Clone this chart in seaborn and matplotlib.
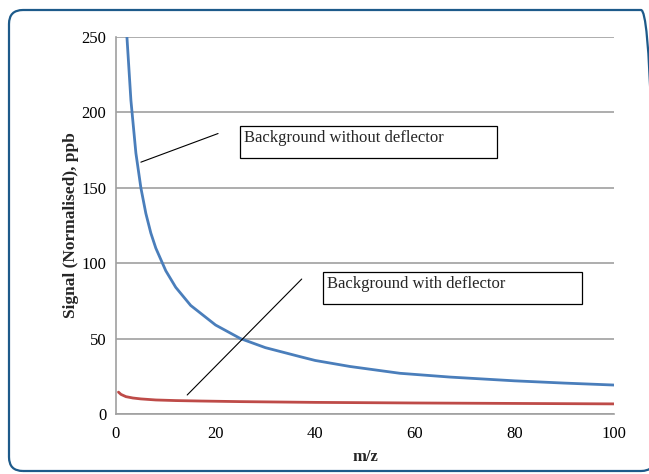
import seaborn as sns
import matplotlib.pyplot as plt
import pandas as pd
from matplotlib.patches import FancyBboxPatch

# values
mz_without = [2.2, 3, 4, 5, 6, 7, 8, 10, 12, 15, 20, 25, 30, 37, 40, 47, 57, 67, 80, 90, 100]
sig_without = [250, 208, 173, 150, 133, 120, 110, 95, 84, 72, 59, 50, 44, 38, 35.5, 31.5, 27, 24.5, 22, 20.5, 19.2]

mz_with = [0.5, 1, 2, 3.4, 5, 8, 12, 17, 25, 40, 60, 80, 100]
sig_with = [14.5, 13, 11.5, 10.6, 10, 9.3, 8.9, 8.6, 8.2, 7.7, 7.3, 7.0, 6.7]

x_ticks = [0, 20, 40, 60, 80, 100]
y_ticks = [0, 50, 100, 150, 200, 250]

df_without = pd.DataFrame({"mz": mz_without, "signal": sig_without})
df_with = pd.DataFrame({"mz": mz_with, "signal": sig_with})

sns.set_style("white")
plt.rcParams['font.family'] = ['Liberation Serif', 'DejaVu Serif']

fig = plt.figure(figsize=(6.49, 4.74), dpi=100)
ax = fig.add_axes([0.1787, 0.1266, 0.7673, 0.7953])

# rounded frame around the whole picture (pixel coords, runs off the right edge)
frame = FancyBboxPatch((9, 3), 646, 461, boxstyle="round,pad=0,rounding_size=14",
                       transform=None, fill=False, edgecolor="#1d5a8a", linewidth=1.6,
                       clip_on=False)
fig.patches.append(frame)

sns.lineplot(data=df_without, x="mz", y="signal", ax=ax, color="#4a7ebb", linewidth=2.0)
sns.lineplot(data=df_with, x="mz", y="signal", ax=ax, color="#be4b48", linewidth=2.0)

ax.set_xlim(0, 100)
ax.set_ylim(0, 250)
ax.set_xticks(x_ticks)
ax.set_yticks(y_ticks)
ax.yaxis.grid(True, color="#a0a0a0", linewidth=1.2)
ax.set_axisbelow(True)
for s in ["top", "right"]:
    ax.spines[s].set_visible(False)
for s in ["left", "bottom"]:
    ax.spines[s].set_color("#a0a0a0")
    ax.spines[s].set_linewidth(1.2)
ax.tick_params(axis="both", direction="out", length=4, width=1.2, color="#a0a0a0",
               labelsize=12, labelcolor="black", pad=3)
ax.tick_params(axis="x", pad=5)

ax.set_xlabel("m/z", fontsize=12, fontweight="bold", labelpad=5)
ax.set_ylabel("Signal (Normalised), ppb", fontsize=12.5, fontweight="bold", labelpad=1.5)

# annotation boxes
ax.add_patch(plt.Rectangle((24.9, 170), 51.6, 21, fill=False, edgecolor="black", linewidth=0.9))
ax.text(25.7, 188.5, "Background without deflector", fontsize=12, va="top", ha="left")
ax.plot([20.5, 5.0], [186, 167], color="black", linewidth=0.8)

ax.add_patch(plt.Rectangle((41.6, 73), 52.0, 21, fill=False, edgecolor="black", linewidth=0.9))
ax.text(42.4, 91.5, "Background with deflector", fontsize=12, va="top", ha="left")
ax.plot([37.3, 14.3], [89.5, 12.6], color="black", linewidth=0.8)

fig.savefig("out.png", dpi=100)
